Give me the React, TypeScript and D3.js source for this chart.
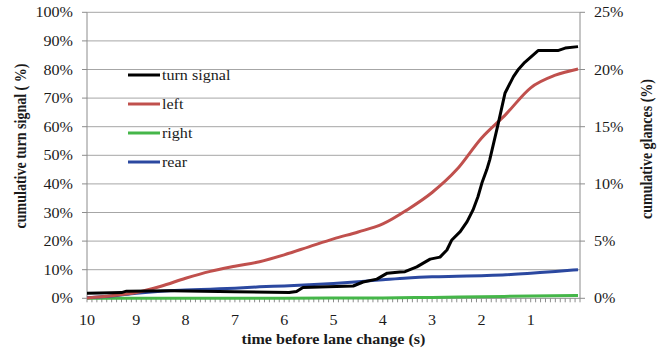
import React from "react";
import * as d3 from "d3";

// time before lane change (s), value
const turnSignal: [number, number][] = [
  [10, 1.8], [9.5, 1.9], [9.3, 2.0], [9.2, 2.5], [8.3, 2.6], [7.0, 2.3], [5.9, 2.0],
  [5.75, 2.4], [5.62, 3.8], [4.6, 4.3], [4.4, 5.7], [4.12, 6.7], [3.91, 8.8],
  [3.65, 9.2], [3.55, 9.3], [3.31, 11.0], [3.18, 12.3], [3.04, 13.7], [2.84, 14.4],
  [2.7, 16.9], [2.6, 20.4], [2.43, 23.3], [2.29, 26.8], [2.17, 30.9], [2.07, 35.5],
  [1.99, 40.3], [1.89, 45], [1.83, 48.5], [1.66, 61], [1.52, 71.8], [1.35, 77.5],
  [1.26, 79.8], [1.12, 82.5], [0.85, 86.6], [0.45, 86.6], [0.3, 87.5], [0.04, 88],
];
const leftGlances: [number, number][] = [
  [10, 0.03], [9.5, 0.22], [9, 0.5], [8.5, 1.05], [8, 1.75], [7.5, 2.35], [7, 2.8],
  [6.5, 3.2], [6, 3.8], [5.5, 4.5], [5, 5.2], [4.5, 5.8], [4, 6.5], [3.5, 7.75],
  [3, 9.25], [2.5, 11.25], [2, 14.0], [1.5, 16.1], [1, 18.4], [0.5, 19.5], [0.04, 20.05],
];
const rightGlances: [number, number][] = [
  [10, 0], [8, 0], [6, 0.01], [4, 0.03], [3, 0.08], [2, 0.14], [1, 0.2], [0.04, 0.25],
];
const rearGlances: [number, number][] = [
  [10, 0.05], [9.5, 0.2], [9, 0.45], [8.5, 0.62], [8, 0.72], [7.5, 0.8], [7, 0.88],
  [6.5, 1.0], [6, 1.08], [5.5, 1.18], [5, 1.3], [4.5, 1.45], [4, 1.62], [3.5, 1.78],
  [3, 1.88], [2.5, 1.93], [2, 1.98], [1.5, 2.05], [1, 2.2], [0.5, 2.35], [0.04, 2.5],
];

const xLabels = [10, 9, 8, 7, 6, 5, 4, 3, 2, 1];
const leftTicks = [0, 10, 20, 30, 40, 50, 60, 70, 80, 90, 100];
const rightTicks = [0, 5, 10, 15, 20, 25];
const legendNames = ["turn signal", "left", "right", "rear"];
const colors = ["#000000", "#c0504d", "#45b649", "#2b48a0"];

const W = 657;
const H = 350;
const L = 87;
const R = 580;
const T = 12.3;
const B = 298.3;
const SX = 1.15;
const FONT = "'Liberation Serif', 'Times New Roman', serif";

function Txt(props: {
  x: number; y: number; anchor?: string; size?: number; bold?: boolean; rotate?: number; children: any;
}) {
  const { x, y, anchor = "start", size = 14, bold = false, rotate = 0, children } = props;
  const tr = rotate
    ? `translate(${x},${y}) rotate(${rotate}) scale(1,${SX})`
    : `translate(${x},${y}) scale(${SX},1)`;
  return (
    <text
      transform={tr}
      textAnchor={anchor as any}
      fontFamily={FONT}
      fontSize={size}
      fontWeight={bold ? "bold" : "normal"}
      fill="#1a1a1a"
    >
      {children}
    </text>
  );
}

export default function App() {
  const x = d3.scaleLinear().domain([10, 0]).range([L, R]);
  const yL = d3.scaleLinear().domain([0, 100]).range([B, T]);
  const yR = d3.scaleLinear().domain([0, 25]).range([B, T]);

  const lineL = d3
    .line<[number, number]>()
    .x((d) => x(d[0]))
    .y((d) => yL(d[1]))
    .curve(d3.curveLinear);
  const lineR = d3
    .line<[number, number]>()
    .x((d) => x(d[0]))
    .y((d) => yR(d[1]))
    .curve(d3.curveMonotoneX);

  const minor = d3.range(0, 101).map((i) => 10 - i * 0.1);

  return (
    <svg
      width={W}
      height={H}
      style={{ position: "absolute", left: 0, top: 0, background: "#fff" }}
    >
      {leftTicks.map((t) =>
        t === 0 ? null : (
          <line key={"g" + t} x1={L} x2={R} y1={yL(t)} y2={yL(t)} stroke="#a6a6a6" strokeWidth={1} />
        )
      )}
      <line x1={L} x2={L} y1={T} y2={B} stroke="#8c8c8c" strokeWidth={1} />
      {leftTicks.map((t) => (
        <line key={"lt" + t} x1={L - 5} x2={L} y1={yL(t)} y2={yL(t)} stroke="#8c8c8c" />
      ))}
      {leftTicks.map((t) => (
        <Txt key={"ll" + t} x={73} y={yL(t) + 5} anchor="end">
          {t + "%"}
        </Txt>
      ))}
      <line x1={R} x2={R} y1={T} y2={B} stroke="#8c8c8c" strokeWidth={1} />
      {rightTicks.map((t) => (
        <line key={"rt" + t} x1={R} x2={R + 5} y1={yR(t)} y2={yR(t)} stroke="#8c8c8c" />
      ))}
      {rightTicks.map((t) => (
        <Txt key={"rl" + t} x={594} y={yR(t) + 5}>
          {t + "%"}
        </Txt>
      ))}
      <line x1={L} x2={R} y1={B} y2={B} stroke="#8c8c8c" />
      {minor.map((t, i) => (
        <line key={"m" + i} x1={x(t)} x2={x(t)} y1={B} y2={B + 4} stroke="#8c8c8c" />
      ))}
      {xLabels.map((t) => (
        <Txt key={"xl" + t} x={x(t)} y={325} anchor="middle">
          {String(t)}
        </Txt>
      ))}
      <Txt x={(L + R) / 2} y={344} anchor="middle" bold>
        time before lane change (s)
      </Txt>
      <Txt x={26} y={146} anchor="middle" bold rotate={-90}>
        cumulative turn signal ( %)
      </Txt>
      <Txt x={652} y={149} anchor="middle" bold rotate={-90}>
        cumulative glances (%)
      </Txt>
      <path d={lineR(rightGlances) || ""} fill="none" stroke={colors[2]} strokeWidth={3} />
      <path d={lineR(rearGlances) || ""} fill="none" stroke={colors[3]} strokeWidth={3} />
      <path d={lineR(leftGlances) || ""} fill="none" stroke={colors[1]} strokeWidth={3} />
      <path d={lineL(turnSignal) || ""} fill="none" stroke={colors[0]} strokeWidth={3} strokeLinejoin="round" />
      {legendNames.map((n, i) => (
        <g key={n}>
          <line x1={128} x2={160} y1={75 + i * 29} y2={75 + i * 29} stroke={colors[i]} strokeWidth={3} />
          <Txt x={162} y={80 + i * 29}>
            {n}
          </Txt>
        </g>
      ))}
    </svg>
  );
}
